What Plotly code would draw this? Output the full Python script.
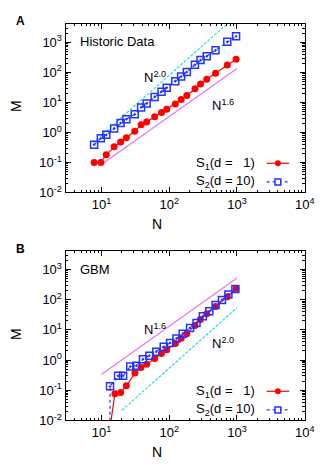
import plotly.graph_objects as go
from plotly.subplots import make_subplots

# panel A: historic data
nA = [7.8, 9.8, 11.8, 15.4, 19.2, 23.3, 31, 38.5, 46.5, 61, 77, 92, 123, 150, 182, 240, 290, 358, 482, 720, 970]
mA_s1 = [0.10, 0.10, 0.18, 0.33, 0.48, 0.66, 1.09, 1.8, 2.24, 3.3, 4.6, 5.9, 8.9, 12.4, 17, 28.5, 41, 59, 93, 175, 275]
mA_s2 = [0.39, 0.64, 0.83, 1.36, 2.04, 2.76, 4.0, 6.8, 9.2, 15.2, 22.8, 31, 51, 73, 103, 178, 256, 345, 540, 1040, 1590]

# panel B: GBM
nB_s1 = [12, 15.8, 19.2, 23.3, 31.2, 38.3, 46.6, 61, 76.7, 92, 123, 150, 182, 240, 288, 358, 482, 720, 968]
mB_s1 = [0.001, 0.077, 0.084, 0.14, 0.37, 0.57, 0.73, 1.12, 1.66, 2.2, 3.55, 5.3, 7.5, 14, 22, 34, 59, 125, 235]
nB_s2 = [13.3, 13.4, 17.6, 20.9, 26.6, 32.7, 41, 51, 64.5, 83, 103, 128, 158, 203, 253, 314, 390, 484, 600, 747, 946]
mB_s2 = [1e-4, 0.135, 0.30, 0.30, 0.61, 0.65, 1.06, 1.4, 1.9, 2.76, 3.7, 5.2, 7.5, 11.6, 17, 28, 41, 66, 98, 147, 224]

# guide lines (end points)
gA16_n, gA16_m = [10, 1000], [0.085, 134]
gA20_n, gA20_m = [7.5, 1000], [0.45, 8000]
gB16_n, gB16_m = [10, 1000], [0.33, 524]
gB20_n, gB20_m = [20, 1000], [0.0216, 54]

xtick_vals = [10, 100, 1000, 10000]
xtick_text = ['10<sup>1</sup>', '10<sup>2</sup>', '10<sup>3</sup>', '10<sup>4</sup>']
ytick_vals = [0.01, 0.1, 1, 10, 100, 1000]
ytick_text = ['10<sup>-2</sup>', '10<sup>-1</sup>', '10<sup>0</sup>', '10<sup>1</sup>', '10<sup>2</sup>', '10<sup>3</sup>']

W, H = 331, 464
RED = '#ff0000'
BLUE = '#2233ff'
CYAN = '#22dde6'
MAGENTA = '#f070f0'
FONT = 'Liberation Sans, Arial, sans-serif'


def px(x):
    return x / W


def py(y):
    return 1 - y / H


fig = go.Figure()

panels = [
    dict(xa='x', ya='y', top=16, bottom=187.7,
         s1=(nA, mA_s1), s2=(nA, mA_s2),
         g16=(gA16_n, gA16_m), g20=(gA20_n, gA20_m)),
    dict(xa='x2', ya='y2', top=247, bottom=419.7,
         s1=(nB_s1, mB_s1), s2=(nB_s2, mB_s2),
         g16=(gB16_n, gB16_m), g20=(gB20_n, gB20_m)),
]

for p in panels:
    fig.add_trace(go.Scatter(x=p['g20'][0], y=p['g20'][1], mode='lines', xaxis=p['xa'], yaxis=p['ya'],
                             line=dict(color=CYAN, width=1.2, dash='3px,1.5px'), showlegend=False))
    fig.add_trace(go.Scatter(x=p['g16'][0], y=p['g16'][1], mode='lines', xaxis=p['xa'], yaxis=p['ya'],
                             line=dict(color=MAGENTA, width=1.2), showlegend=False))
    fig.add_trace(go.Scatter(x=p['s1'][0], y=p['s1'][1], mode='lines+markers', xaxis=p['xa'], yaxis=p['ya'],
                             line=dict(color=RED, width=1.2),
                             marker=dict(symbol='circle', size=7, color=RED), showlegend=False))
    fig.add_trace(go.Scatter(x=p['s2'][0], y=p['s2'][1], mode='lines+markers', xaxis=p['xa'], yaxis=p['ya'],
                             line=dict(color=BLUE, width=1.2, dash='dot'),
                             marker=dict(symbol='square-open-dot', size=7, color=BLUE, line=dict(width=1.5)),
                             showlegend=False))

minor_x = [k * 10 ** e for e in range(0, 4) for k in range(2, 10)]
minor_y = [k * 10.0 ** e for e in range(-2, 4) for k in range(2, 10)]

axis_common = dict(type='log', showgrid=False, zeroline=False, showline=True, linecolor='black',
                   linewidth=1, mirror='allticks', ticks='inside', ticklen=5, tickcolor='black',
                   tickfont=dict(family=FONT, size=13, color='black'))

layout = dict(
    width=W, height=H, margin=dict(l=0, r=0, t=0, b=0),
    paper_bgcolor='white', plot_bgcolor='white', showlegend=False,
)
fig.update_layout(**layout)

for i, p in enumerate(panels):
    sx = '' if i == 0 else '2'
    fig.update_layout(**{
        'xaxis' + sx: dict(axis_common, domain=[px(59.3), px(306)], range=[0.47, 4],
                           anchor='y' + sx, tickmode='array', tickvals=xtick_vals, ticktext=xtick_text,
                           minor=dict(tickmode='array', tickvals=minor_x, ticks='inside', ticklen=2.5,
                                      tickcolor='black')),
        'yaxis' + sx: dict(axis_common, domain=[py(p['bottom']), py(p['top'])], range=[-2, 3.62],
                           anchor='x' + sx, tickmode='array', tickvals=ytick_vals, ticktext=ytick_text,
                           minor=dict(tickmode='array', tickvals=minor_y, ticks='inside', ticklen=2.5,
                                      tickcolor='black')),
    })

ann = []


def text(x, y, s, size=13, xanchor='left', bold=False, angle=0):
    ann.append(dict(x=px(x), y=py(y), xref='paper', yref='paper', text=s, showarrow=False,
                    xanchor=xanchor, yanchor='middle', textangle=angle,
                    font=dict(family=FONT, size=size, color='black')))


shapes = []
for off, label in [(0, 'Historic Data'), (232, 'GBM')]:
    text(72, 34 + off, label, size=13)
    text(9, 100 + off, 'M', size=14, xanchor='center', angle=-90)
    text(154, 220 + off, 'N', size=14, xanchor='center')
    text(256.5, 158 + off, 'S<sub>1</sub>(d =\u00a0\u00a0 1)', size=13, xanchor='right')
    text(256.5, 176.5 + off, 'S<sub>2</sub>(d = 10)', size=13, xanchor='right')
    # legend keys
    shapes.append(dict(type='line', xref='paper', yref='paper', x0=px(266.7), x1=px(290),
                       y0=py(158 + off), y1=py(158 + off), line=dict(color=RED, width=1.2)))
    shapes.append(dict(type='circle', xref='paper', yref='paper', x0=px(275.3), x1=px(281.3),
                       y0=py(155 + off), y1=py(161 + off), fillcolor=RED, line=dict(color=RED, width=0)))
    shapes.append(dict(type='line', xref='paper', yref='paper', x0=px(266.7), x1=px(290),
                       y0=py(177 + off), y1=py(177 + off), line=dict(color=BLUE, width=1.2, dash='dot')))
    shapes.append(dict(type='rect', xref='paper', yref='paper', x0=px(275.3), x1=px(281.3),
                       y0=py(174 + off), y1=py(180 + off), fillcolor='white', line=dict(color=BLUE, width=1.5)))

text(138, 70, 'N<sup>2.0</sup>')
text(208, 99, 'N<sup>1.6</sup>')
text(138, 327, 'N<sup>1.6</sup>')
text(208, 341, 'N<sup>2.0</sup>')

for y, s in [(13, '<b>A</b>'), (245, '<b>B</b>')]:
    ann.append(dict(x=px(13), y=py(y), xref='paper', yref='paper', text=s, showarrow=False,
                    xanchor='center', yanchor='middle', font=dict(family=FONT, size=12, color='black')))

fig.update_layout(annotations=ann, shapes=shapes)

fig.write_html('out.html')
